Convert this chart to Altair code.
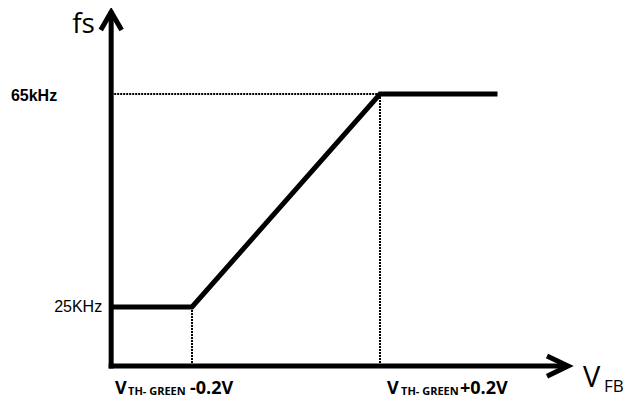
import altair as alt
import pandas as pd

# ---- values ----
# V_FB relative to V_TH-GREEN (volts); switching frequency fs (kHz)
curve_v = [-0.372, -0.2, 0.2, 0.45]
curve_f = [25, 25, 65, 65]
knee_v = [-0.2, 0.2]
fs_levels = [25, 65]
origin_v, origin_f = -0.372, 13.9      # where the drawn axes cross
x_end_v, y_end_f = 0.6, 80.4           # arrow tips of the drawn axes
level_labels = ["25KHz", "65kHz"]
knee_signs = ["-0.2V", "+0.2V"]

# ---- scales (layout) ----
W, H = 617, 387
xs = alt.Scale(domain=[-0.5915, -0.5915 + W / 470], nice=False, zero=False)
ys = alt.Scale(domain=[81.150 - H / 5.325, 81.150], nice=False, zero=False)


def enc(df_chart, v="v", f="f", v2=None, f2=None):
    kw = dict(x=alt.X(f"{v}:Q", scale=xs, axis=None),
              y=alt.Y(f"{f}:Q", scale=ys, axis=None))
    if v2:
        kw["x2"] = alt.X2(f"{v2}:Q")
    if f2:
        kw["y2"] = alt.Y2(f"{f2}:Q")
    return df_chart.encode(**kw)


# dotted guide lines
guides = pd.DataFrame({
    "v": [origin_v, knee_v[0], knee_v[1]],
    "v2": [knee_v[1], knee_v[0], knee_v[1]],
    "f": [fs_levels[1], origin_f, origin_f],
    "f2": [fs_levels[1], fs_levels[0], fs_levels[1]],
})
guide_layer = enc(alt.Chart(guides).mark_rule(color="black", strokeWidth=2, strokeDash=[2, 1]),
                  v2="v2", f2="f2")

# main curve
curve = pd.DataFrame({"v": curve_v, "f": curve_f, "o": list(range(len(curve_v)))})
curve_layer = enc(alt.Chart(curve).mark_line(color="black", strokeWidth=5, strokeJoin="miter")).encode(order="o:Q")

# drawn axes
axes = pd.DataFrame({
    "v": [origin_v, origin_v],
    "v2": [origin_v, x_end_v - 0.01],
    "f": [origin_f, origin_f],
    "f2": [y_end_f - 0.3, origin_f],
})
axes_layer = enc(alt.Chart(axes).mark_rule(color="black", strokeWidth=5, strokeCap="square"),
                 v2="v2", f2="f2")

# arrow heads
up = pd.DataFrame({"v": [origin_v], "f": [y_end_f]})
right = pd.DataFrame({"v": [x_end_v], "f": [origin_f]})
up_layer = enc(alt.Chart(up).mark_point(shape="M-0.58,1L0,0L0.58,1", size=1296, filled=False,
                                         color="black", strokeWidth=5, opacity=1, strokeJoin="miter"))
right_layer = enc(alt.Chart(right).mark_point(shape="M-1,-0.48L0,0L-1,0.48", size=1764, filled=False,
                                               color="black", strokeWidth=5, opacity=1, strokeJoin="miter"))


def text(txt, v, f, dx, dy, size, weight="normal", font="Open Sans", align="left"):
    df = pd.DataFrame({"v": [v], "f": [f], "t": [txt]})
    return enc(alt.Chart(df).mark_text(align=align, baseline="alphabetic", dx=dx, dy=dy,
                                       fontSize=size, fontWeight=weight, font=font,
                                       color="black")).encode(text="t:N")


texts = [
    text("fs", origin_v, y_end_f, -39, 21, 28),
    text(level_labels[1], origin_v, fs_levels[1], -54, 7, 16, "bold", "Liberation Sans", "right"),
    text(level_labels[0], origin_v, fs_levels[0], -9, 5, 16, "normal", "Liberation Sans", "right"),
    text("V", x_end_v, origin_f, 15, 21, 29),
    text("FB", x_end_v, origin_f, 36, 26, 17),
    # left knee label
    text("V", knee_v[0], origin_f, -77, 28, 18, "bold"),
    text("TH- GREEN", knee_v[0], origin_f, -64, 29, 11, "bold"),
    text(knee_signs[0], knee_v[0], origin_f, -2, 28, 18, "bold"),
    # right knee label
    text("V", knee_v[1], origin_f, 7, 28, 18, "bold"),
    text("TH- GREEN", knee_v[1], origin_f, 21, 29, 11, "bold"),
    text(knee_signs[1], knee_v[1], origin_f, 80, 28, 18, "bold"),
]

chart = alt.layer(guide_layer, curve_layer, axes_layer, up_layer, right_layer, *texts).properties(
    width=W, height=H, padding=0, autosize=alt.AutoSizeParams(type="none")
).configure_view(stroke=None)

chart.save("out.html", embed_options={"renderer": "svg", "actions": False})
